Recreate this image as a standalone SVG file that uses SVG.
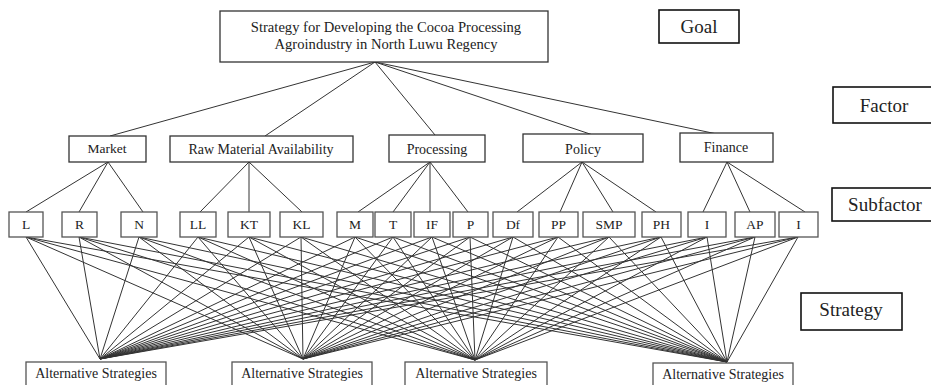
<svg xmlns="http://www.w3.org/2000/svg" width="931" height="385" viewBox="0 0 931 385">
<style>
text{font-family:"Liberation Serif","Times New Roman",serif;fill:#222;text-anchor:middle}
.box{fill:#fff;stroke:#333;stroke-width:1.3}
.sub{fill:#fff;stroke:#555;stroke-width:1.3}
.lab{fill:#fff;stroke:#111;stroke-width:1.6}
.c line{stroke:#333;stroke-width:1}
.t14{font-size:14px}.t13{font-size:13.5px}.t19{font-size:19px}.tg{font-size:14.6px}
</style>
<rect width="931" height="385" fill="#fff"/>
<g id="connectors" class="c">
<line x1="375" y1="62" x2="110" y2="136"/>
<line x1="375" y1="62" x2="265" y2="136"/>
<line x1="375" y1="62" x2="435" y2="135"/>
<line x1="375" y1="62" x2="593" y2="135"/>
<line x1="375" y1="62" x2="717" y2="134"/>
<line x1="108" y1="162" x2="26" y2="212"/>
<line x1="108" y1="162" x2="79" y2="212"/>
<line x1="108" y1="162" x2="143" y2="212"/>
<line x1="249" y1="162" x2="200" y2="212"/>
<line x1="249" y1="162" x2="249" y2="212"/>
<line x1="249" y1="162" x2="302" y2="212"/>
<line x1="430" y1="162" x2="358" y2="212"/>
<line x1="430" y1="162" x2="393" y2="212"/>
<line x1="430" y1="162" x2="430" y2="212"/>
<line x1="430" y1="162" x2="468" y2="212"/>
<line x1="582" y1="162" x2="517" y2="212"/>
<line x1="582" y1="162" x2="560" y2="212"/>
<line x1="582" y1="162" x2="613" y2="212"/>
<line x1="582" y1="162" x2="656" y2="212"/>
<line x1="727" y1="162" x2="703" y2="212"/>
<line x1="727" y1="162" x2="750" y2="212"/>
<line x1="727" y1="162" x2="805" y2="212"/>
<line x1="26" y1="237" x2="100" y2="359"/><line x1="26" y1="237" x2="303" y2="359"/><line x1="26" y1="237" x2="475" y2="360"/><line x1="26" y1="237" x2="727" y2="362"/>
<line x1="79" y1="237" x2="100" y2="359"/><line x1="79" y1="237" x2="303" y2="359"/><line x1="79" y1="237" x2="475" y2="360"/><line x1="79" y1="237" x2="727" y2="362"/>
<line x1="139" y1="237" x2="100" y2="359"/><line x1="139" y1="237" x2="303" y2="359"/><line x1="139" y1="237" x2="475" y2="360"/><line x1="139" y1="237" x2="727" y2="362"/>
<line x1="198" y1="237" x2="100" y2="359"/><line x1="198" y1="237" x2="303" y2="359"/><line x1="198" y1="237" x2="475" y2="360"/><line x1="198" y1="237" x2="727" y2="362"/>
<line x1="249" y1="237" x2="100" y2="359"/><line x1="249" y1="237" x2="303" y2="359"/><line x1="249" y1="237" x2="475" y2="360"/><line x1="249" y1="237" x2="727" y2="362"/>
<line x1="301" y1="237" x2="100" y2="359"/><line x1="301" y1="237" x2="303" y2="359"/><line x1="301" y1="237" x2="475" y2="360"/><line x1="301" y1="237" x2="727" y2="362"/>
<line x1="355" y1="237" x2="100" y2="359"/><line x1="355" y1="237" x2="303" y2="359"/><line x1="355" y1="237" x2="475" y2="360"/><line x1="355" y1="237" x2="727" y2="362"/>
<line x1="393" y1="237" x2="100" y2="359"/><line x1="393" y1="237" x2="303" y2="359"/><line x1="393" y1="237" x2="475" y2="360"/><line x1="393" y1="237" x2="727" y2="362"/>
<line x1="432" y1="237" x2="100" y2="359"/><line x1="432" y1="237" x2="303" y2="359"/><line x1="432" y1="237" x2="475" y2="360"/><line x1="432" y1="237" x2="727" y2="362"/>
<line x1="470" y1="237" x2="100" y2="359"/><line x1="470" y1="237" x2="303" y2="359"/><line x1="470" y1="237" x2="475" y2="360"/><line x1="470" y1="237" x2="727" y2="362"/>
<line x1="513" y1="237" x2="100" y2="359"/><line x1="513" y1="237" x2="303" y2="359"/><line x1="513" y1="237" x2="475" y2="360"/><line x1="513" y1="237" x2="727" y2="362"/>
<line x1="558" y1="237" x2="100" y2="359"/><line x1="558" y1="237" x2="303" y2="359"/><line x1="558" y1="237" x2="475" y2="360"/><line x1="558" y1="237" x2="727" y2="362"/>
<line x1="609" y1="237" x2="100" y2="359"/><line x1="609" y1="237" x2="303" y2="359"/><line x1="609" y1="237" x2="475" y2="360"/><line x1="609" y1="237" x2="727" y2="362"/>
<line x1="661" y1="237" x2="100" y2="359"/><line x1="661" y1="237" x2="303" y2="359"/><line x1="661" y1="237" x2="475" y2="360"/><line x1="661" y1="237" x2="727" y2="362"/>
<line x1="707" y1="237" x2="100" y2="359"/><line x1="707" y1="237" x2="303" y2="359"/><line x1="707" y1="237" x2="475" y2="360"/><line x1="707" y1="237" x2="727" y2="362"/>
<line x1="755" y1="237" x2="100" y2="359"/><line x1="755" y1="237" x2="303" y2="359"/><line x1="755" y1="237" x2="475" y2="360"/><line x1="755" y1="237" x2="727" y2="362"/>
<line x1="798" y1="237" x2="100" y2="359"/><line x1="798" y1="237" x2="303" y2="359"/><line x1="798" y1="237" x2="475" y2="360"/><line x1="798" y1="237" x2="727" y2="362"/>
</g>
<g id="goal"><rect class="box" x="220" y="11" width="328" height="51"/><text class="tg" x="386" y="32">Strategy for Developing the Cocoa Processing</text><text class="tg" x="386" y="49">Agroindustry in North Luwu Regency</text></g>
<g id="f-market"><rect class="box" x="69" y="136" width="77" height="26"/><text class="t13" x="107" y="153">Market</text></g>
<g id="f-raw"><rect class="box" x="170" y="136" width="183" height="26"/><text class="t14" x="261" y="154">Raw Material Availability</text></g>
<g id="f-processing"><rect class="box" x="389" y="135" width="96" height="27"/><text class="t14" x="437" y="154">Processing</text></g>
<g id="f-policy"><rect class="box" x="523" y="134" width="120" height="28"/><text class="t14" x="583" y="154">Policy</text></g>
<g id="f-finance"><rect class="box" x="680" y="133" width="93" height="29"/><text class="t14" x="726" y="152">Finance</text></g>
<g id="s-L"><rect class="sub" x="9" y="212" width="34" height="25"/><text class="t13" x="26" y="229">L</text></g>
<g id="s-R"><rect class="sub" x="62" y="212" width="35" height="25"/><text class="t13" x="79.5" y="229">R</text></g>
<g id="s-N"><rect class="sub" x="121" y="212" width="36" height="25"/><text class="t13" x="139" y="229">N</text></g>
<g id="s-LL"><rect class="sub" x="180" y="212" width="36" height="25"/><text class="t13" x="198" y="229">LL</text></g>
<g id="s-KT"><rect class="sub" x="228" y="212" width="42" height="25"/><text class="t13" x="249" y="229">KT</text></g>
<g id="s-KL"><rect class="sub" x="280" y="212" width="43" height="25"/><text class="t13" x="301.5" y="229">KL</text></g>
<g id="s-M"><rect class="sub" x="337" y="212" width="36" height="25"/><text class="t13" x="355" y="229">M</text></g>
<g id="s-T"><rect class="sub" x="375" y="212" width="36" height="25"/><text class="t13" x="393" y="229">T</text></g>
<g id="s-IF"><rect class="sub" x="414" y="212" width="36" height="25"/><text class="t13" x="432" y="229">IF</text></g>
<g id="s-P"><rect class="sub" x="453" y="212" width="35" height="25"/><text class="t13" x="470.5" y="229">P</text></g>
<g id="s-Df"><rect class="sub" x="493" y="212" width="40" height="25"/><text class="t13" x="513" y="229">Df</text></g>
<g id="s-PP"><rect class="sub" x="539" y="212" width="39" height="25"/><text class="t13" x="558.5" y="229">PP</text></g>
<g id="s-SMP"><rect class="sub" x="583" y="212" width="52" height="25"/><text class="t13" x="609" y="229">SMP</text></g>
<g id="s-PH"><rect class="sub" x="642" y="212" width="39" height="25"/><text class="t13" x="661.5" y="229">PH</text></g>
<g id="s-I1"><rect class="sub" x="688" y="212" width="38" height="25"/><text class="t13" x="707" y="229">I</text></g>
<g id="s-AP"><rect class="sub" x="735" y="212" width="40" height="25"/><text class="t13" x="755" y="229">AP</text></g>
<g id="s-I2"><rect class="sub" x="779" y="212" width="39" height="25"/><text class="t13" x="798.5" y="229">I</text></g>
<g id="a1"><rect class="sub" x="26" y="362" width="140" height="34"/><text class="t14" x="96" y="378">Alternative Strategies</text></g>
<g id="a2"><rect class="sub" x="232" y="362" width="140" height="34"/><text class="t14" x="302" y="378">Alternative Strategies</text></g>
<g id="a3"><rect class="sub" x="405" y="362" width="142" height="34"/><text class="t14" x="476" y="378">Alternative Strategies</text></g>
<g id="a4"><rect class="sub" x="653" y="363" width="140" height="34"/><text class="t14" x="723" y="379">Alternative Strategies</text></g>
<g id="l-goal"><rect class="lab" x="659" y="10" width="80" height="33"/><text class="t19" x="699" y="33">Goal</text></g>
<g id="l-factor"><rect class="lab" x="833" y="87" width="102" height="36"/><text class="t19" x="884" y="112">Factor</text></g>
<g id="l-subfactor"><rect class="lab" x="832" y="188" width="104" height="33"/><text class="t19" x="885" y="211">Subfactor</text></g>
<g id="l-strategy"><rect class="lab" x="801" y="293" width="101" height="37"/><text class="t19" x="851" y="316">Strategy</text></g>
</svg>
